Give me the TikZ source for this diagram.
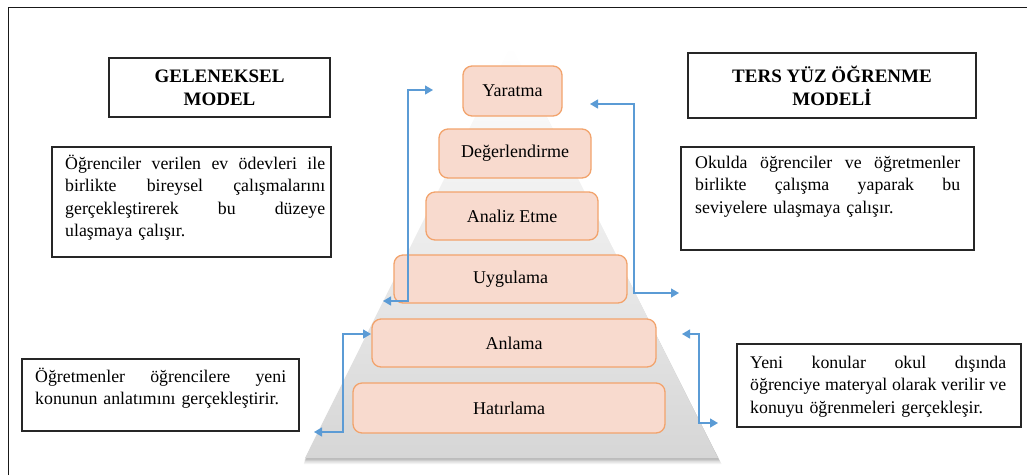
\documentclass[tikz,border=0pt]{standalone}
\usepackage{fontspec}
\setmainfont{Liberation Serif}
\usetikzlibrary{arrows.meta,calc}
\definecolor{arrowblue}{HTML}{5B9BD5}
\definecolor{levelfill}{HTML}{F8DACE}
\definecolor{leveldraw}{HTML}{F2A36C}
% one justified line of a given width (words separated by \hfill)
\newcommand{\jl}[2]{\leavevmode\hbox to #1{#2}}

\begin{document}
\begin{tikzpicture}[x=1pt,y=-1pt,
  level/.style={draw=leveldraw, fill=levelfill, line width=1.3pt,
    rounded corners=9pt, font=\fontsize{18}{20}\selectfont, inner sep=0pt},
  frame/.style={draw=black!85, line width=1.2pt, inner sep=0pt},
  body/.style={font=\fontsize{17.8}{22.5}\selectfont, inner sep=0pt,
    anchor=base west, align=left},
  title/.style={font=\bfseries\fontsize{19}{23}\selectfont, align=center},
  link/.style={draw=arrowblue, line width=1.3pt,
    {Triangle[length=8pt,width=9pt]}-{Triangle[length=8pt,width=9pt]}}
]
\useasboundingbox (0,0) rectangle (1027,475);

% outer frame (left and top edges)
\draw[line width=1.5pt, black!90] (8.5,475) -- (8.5,7.5) -- (1027,7.5);

% pyramid with a soft shadow underneath
\foreach \s/\o in {6/0.05,4.5/0.07,3/0.09,1.5/0.10}
  \fill[black, opacity=\o] (511,{45+\s}) -- ({718+\s*0.6},{458+\s}) -- ({305-\s*0.2},{458+\s}) -- cycle;
\shade[top color=white, bottom color=black!16] (511,45) -- (718,458) -- (305,458) -- cycle;

% levels
\node[level, minimum width=99pt,  minimum height=50pt] (yaratma)  at (512.5,91)  {Yaratma};
\node[level, minimum width=152pt, minimum height=49pt] (degerl)   at (515,153.5) {Değerlendirme};
\node[level, minimum width=172pt, minimum height=48pt] (analiz)   at (512,216)   {Analiz Etme};
\node[level, minimum width=233pt, minimum height=48pt] (uygulama) at (510.5,279) {Uygulama};
\node[level, minimum width=284pt, minimum height=48pt] (anlama)   at (514,343)   {Anlama};
\node[level, minimum width=312pt, minimum height=50pt] (hatirlama) at (509,408)  {Hatırlama};

% title boxes
\node[frame, title, minimum width=221pt, minimum height=59pt] (geltitle) at (219.5,87.5) {GELENEKSEL\\MODEL};
\node[frame, title, minimum width=288pt, minimum height=65pt] (terstitle) at (832,85.5) {TERS YÜZ ÖĞRENME\\MODELİ};

% description boxes
\node[frame, minimum width=279pt, minimum height=110pt] (geldesc) at (191.5,202) {};
\node[body, text width=260pt] (geltext) at (65,169)
  {\jl{260pt}{Öğrenciler\hfill verilen\hfill ev\hfill ödevleri\hfill ile}\\
   \jl{260pt}{birlikte\hfill bireysel\hfill çalışmalarını}\\
   \jl{260pt}{gerçekleştirerek\hfill bu\hfill düzeye}\\
   ulaşmaya çalışır.};

\node[frame, minimum width=293pt, minimum height=103pt] (tersdesc) at (827.5,198.5) {};
\node[body, text width=265pt] (terstext) at (695,168)
  {\jl{265pt}{Okulda\hfill öğrenciler\hfill ve\hfill öğretmenler}\\
   \jl{265pt}{birlikte\hfill çalışma\hfill yaparak\hfill bu}\\
   seviyelere ulaşmaya çalışır.};

\node[frame, minimum width=277pt, minimum height=72pt] (ogretdesc) at (160.5,395) {};
\node[body, text width=251pt] (ogrettext) at (35,382)
  {\jl{251pt}{Öğretmenler\hfill öğrencilere\hfill yeni}\\
   konunun anlatımını gerçekleştirir.};

\node[frame, minimum width=284pt, minimum height=83pt] (yenidesc) at (879,385.5) {};
\node[body, text width=256pt] (yenitext) at (750,368)
  {\jl{256pt}{Yeni\hfill konular\hfill okul\hfill dışında}\\
   \jl{256pt}{öğrenciye\hfill materyal\hfill olarak\hfill verilir\hfill ve}\\
   konuyu öğrenmeleri gerçekleşir.};

% connector end points
\coordinate (l1a) at (383,301);
\coordinate (l1b) at (433,90);
\coordinate (r1a) at (590,104);
\coordinate (r1b) at (679,293);
\coordinate (l2a) at (371,334);
\coordinate (l2b) at (314,432);
\coordinate (r2a) at (682,334);
\coordinate (r2b) at (718,423);

% connectors
\draw[link] (l1a) -- ++(25,0) |- (l1b);
\draw[link] (r1a) -- ++(44,0) |- (r1b);
\draw[link] (l2a) -- ++(-28,0) |- (l2b);
\draw[link] (r2a) -- ++(17,0) |- (r2b);
\end{tikzpicture}
\end{document}
